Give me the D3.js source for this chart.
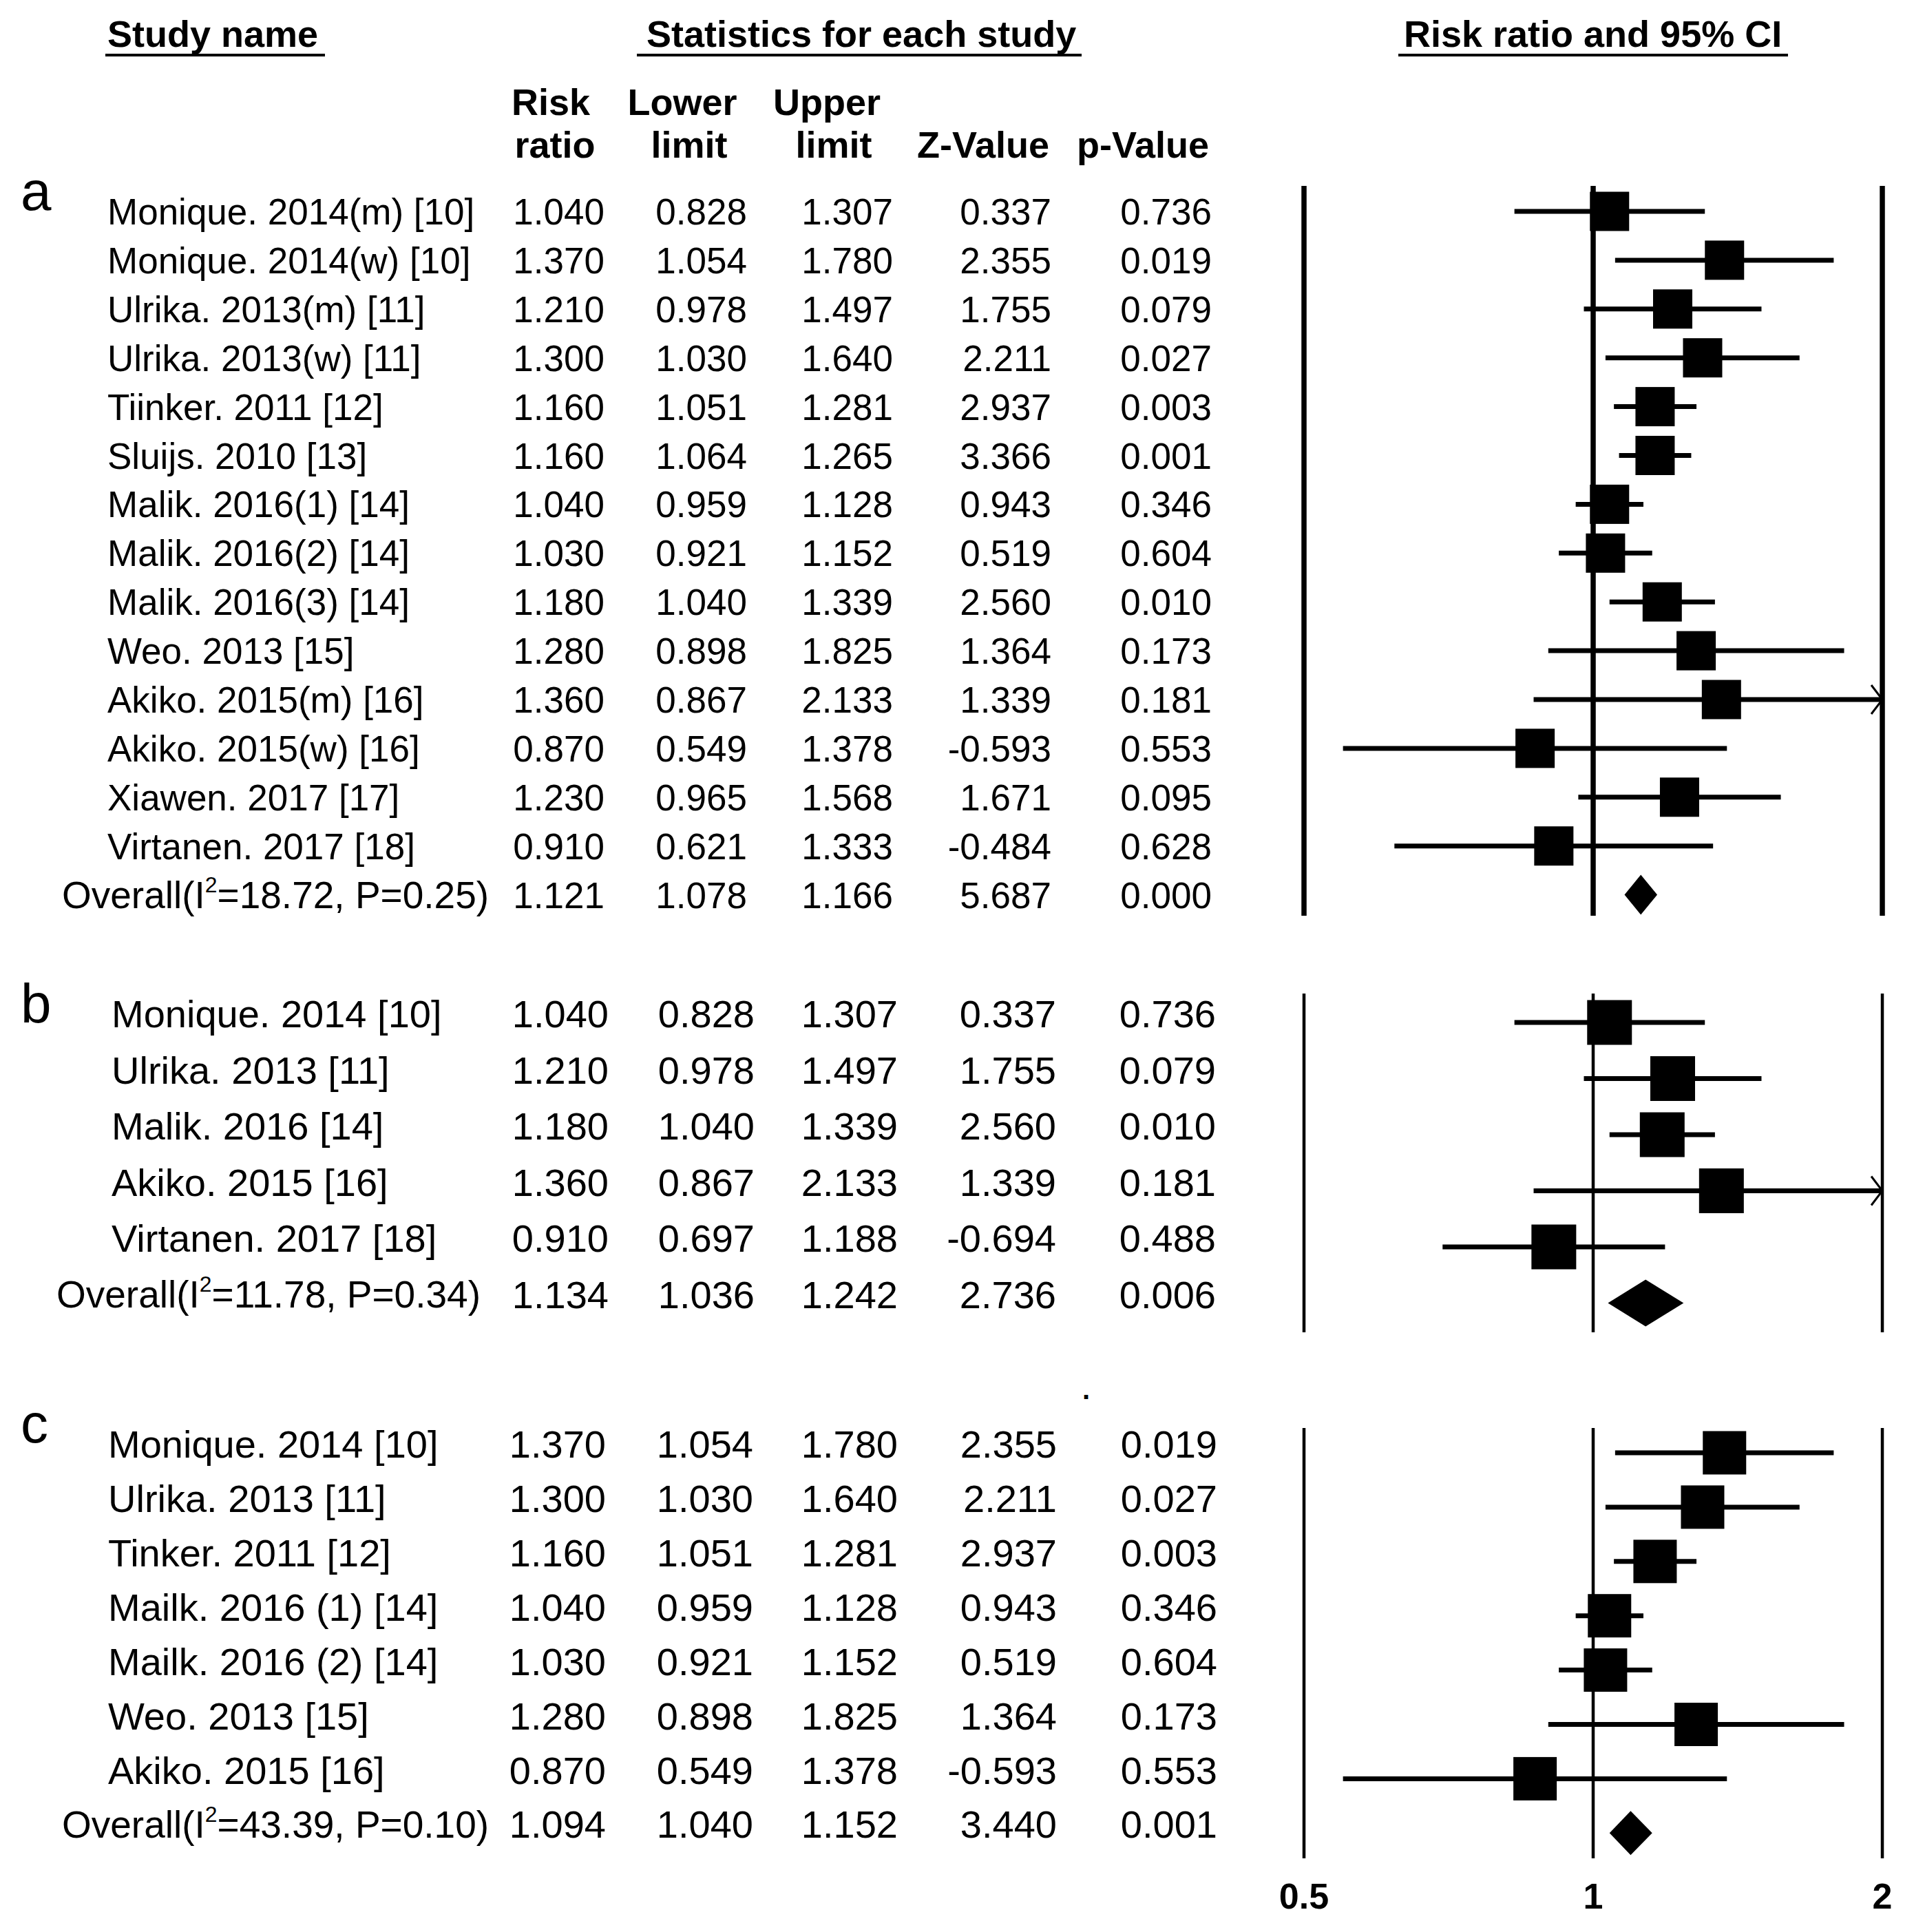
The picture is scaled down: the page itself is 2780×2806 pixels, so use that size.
<!DOCTYPE html>
<html>
<head>
<meta charset="utf-8">
<script src="https://cdn.jsdelivr.net/npm/d3@7"></script>
<style>
  body { margin: 0; background: #fff; }
  text { font-family: "Liberation Sans", Arial, sans-serif; fill: #000; }
</style>
</head>
<body>
<div id="chart"></div>
<script>
// ---- data ----
const namesA = ["Monique. 2014(m) [10]", "Monique. 2014(w) [10]", "Ulrika. 2013(m) [11]", "Ulrika. 2013(w) [11]",
  "Tiinker. 2011 [12]", "Sluijs. 2010 [13]", "Malik. 2016(1) [14]", "Malik. 2016(2) [14]", "Malik. 2016(3) [14]",
  "Weo. 2013 [15]", "Akiko. 2015(m) [16]", "Akiko. 2015(w) [16]", "Xiawen. 2017 [17]", "Virtanen. 2017 [18]"];
const ratioA = [1.040, 1.370, 1.210, 1.300, 1.160, 1.160, 1.040, 1.030, 1.180, 1.280, 1.360, 0.870, 1.230, 0.910, 1.121];
const lowerA = [0.828, 1.054, 0.978, 1.030, 1.051, 1.064, 0.959, 0.921, 1.040, 0.898, 0.867, 0.549, 0.965, 0.621, 1.078];
const upperA = [1.307, 1.780, 1.497, 1.640, 1.281, 1.265, 1.128, 1.152, 1.339, 1.825, 2.133, 1.378, 1.568, 1.333, 1.166];
const zA = [0.337, 2.355, 1.755, 2.211, 2.937, 3.366, 0.943, 0.519, 2.560, 1.364, 1.339, -0.593, 1.671, -0.484, 5.687];
const pA = [0.736, 0.019, 0.079, 0.027, 0.003, 0.001, 0.346, 0.604, 0.010, 0.173, 0.181, 0.553, 0.095, 0.628, 0.000];
const overallA = ["18.72", "0.25"];

const namesB = ["Monique. 2014 [10]", "Ulrika. 2013 [11]", "Malik. 2016 [14]", "Akiko. 2015 [16]", "Virtanen. 2017 [18]"];
const ratioB = [1.040, 1.210, 1.180, 1.360, 0.910, 1.134];
const lowerB = [0.828, 0.978, 1.040, 0.867, 0.697, 1.036];
const upperB = [1.307, 1.497, 1.339, 2.133, 1.188, 1.242];
const zB = [0.337, 1.755, 2.560, 1.339, -0.694, 2.736];
const pB = [0.736, 0.079, 0.010, 0.181, 0.488, 0.006];
const overallB = ["11.78", "0.34"];

const namesC = ["Monique. 2014 [10]", "Ulrika. 2013 [11]", "Tinker. 2011 [12]", "Mailk. 2016 (1) [14]",
  "Mailk. 2016 (2) [14]", "Weo. 2013 [15]", "Akiko. 2015 [16]"];
const ratioC = [1.370, 1.300, 1.160, 1.040, 1.030, 1.280, 0.870, 1.094];
const lowerC = [1.054, 1.030, 1.051, 0.959, 0.921, 0.898, 0.549, 1.040];
const upperC = [1.780, 1.640, 1.281, 1.128, 1.152, 1.825, 1.378, 1.152];
const zC = [2.355, 2.211, 2.937, 0.943, 0.519, 1.364, -0.593, 3.440];
const pC = [0.019, 0.027, 0.003, 0.346, 0.604, 0.173, 0.553, 0.001];
const overallC = ["43.39", "0.10"];

const headTop = ["Risk", "Lower", "Upper"];
const headBottom = ["ratio", "limit", "limit", "Z-Value", "p-Value"];
const tickValues = [0.5, 1, 2];

// ---- layout ----
const W = 2780, H = 2806;
// plain hyphen for negatives, like the original table
const fmt = v => d3.format(".3f")(v).replace("\u2212", "-");

const svg = d3.select("#chart").append("svg")
    .attr("width", W)
    .attr("height", H);

const x = d3.scaleLog().domain([0.5, 2]).range([1894, 2734]);

// column headings
const titles = [
  {t: "Study name", x: 156, u: [153, 472]},
  {t: "Statistics for each study", x: 939, u: [925, 1571]},
  {t: "Risk ratio and 95% CI", x: 2039, u: [2031, 2597]}
];
svg.selectAll(".title").data(titles).enter().append("text")
    .attr("class", "title")
    .attr("x", d => d.x).attr("y", 68)
    .style("font-size", "54px").style("font-weight", "bold")
    .text(d => d.t);
svg.selectAll(".uline").data(titles).enter().append("line")
    .attr("x1", d => d.u[0]).attr("x2", d => d.u[1])
    .attr("y1", 80).attr("y2", 80)
    .attr("stroke", "#000").attr("stroke-width", 4);

const topCenters = [800, 991, 1201];
const botCenters = [806, 1001, 1211, 1428, 1660];
svg.selectAll(".htop").data(headTop).enter().append("text")
    .attr("x", (d, i) => topCenters[i]).attr("y", 167)
    .attr("text-anchor", "middle")
    .style("font-size", "54px").style("font-weight", "bold")
    .text(d => d);
svg.selectAll(".hbot").data(headBottom).enter().append("text")
    .attr("x", (d, i) => botCenters[i]).attr("y", 229)
    .attr("text-anchor", "middle")
    .style("font-size", "54px").style("font-weight", "bold")
    .text(d => d);

const panels = [
  {label: "a", labelY: 305, names: namesA, ratio: ratioA, lower: lowerA, upper: upperA, z: zA, p: pA, overall: overallA,
   top: 270, bottom: 1330, y0: 307, step: 70.9, markOff: 0, fs: 53, ofs: 55, nameX: 156, overallX: 90,
   cols: [878, 1085, 1297, 1527, 1760], box: 57, lw: 7.5, dh: 58},
  {label: "b", labelY: 1485, names: namesB, ratio: ratioB, lower: lowerB, upper: upperB, z: zB, p: pB, overall: overallB,
   top: 1443, bottom: 1935, y0: 1472, step: 81.5, markOff: 13, fs: 56, ofs: 55, nameX: 162, overallX: 82,
   cols: [884, 1096, 1304, 1534, 1766], box: 65, lw: 4.5, dh: 68},
  {label: "c", labelY: 2095, names: namesC, ratio: ratioC, lower: lowerC, upper: upperC, z: zC, p: pC, overall: overallC,
   top: 2074, bottom: 2699, y0: 2097, step: 78.9, markOff: 13, fs: 56, ofs: 55, nameX: 157, overallX: 90,
   cols: [880, 1094, 1304, 1535, 1768], box: 63, lw: 4.5, dh: 64}
];

panels.forEach(pn => {
  const g = svg.append("g");
  const n = pn.ratio.length;
  const rows = d3.range(n).map(i => ({
    i: i,
    overall: i === n - 1,
    name: pn.names[i],
    vals: [pn.ratio[i], pn.lower[i], pn.upper[i], pn.z[i], pn.p[i]],
    rr: pn.ratio[i], lo: pn.lower[i], hi: pn.upper[i],
    ty: pn.y0 + i * pn.step,
    my: pn.y0 + i * pn.step + pn.markOff
  }));

  g.append("text")
      .attr("x", 30).attr("y", pn.labelY)
      .style("font-size", "80px")
      .text(pn.label);

  // study names
  const nm = g.selectAll(".name").data(rows).enter().append("text")
      .attr("x", d => d.overall ? pn.overallX : pn.nameX)
      .attr("y", d => d.ty).attr("dy", "0.36em")
      .style("font-size", d => (d.overall ? pn.ofs : pn.fs) + "px");
  nm.filter(d => !d.overall).text(d => d.name);
  nm.filter(d => d.overall).each(function() {
    const t = d3.select(this);
    t.append("tspan").text("Overall(I");
    t.append("tspan").attr("dy", -0.42 * pn.ofs).style("font-size", (pn.ofs * 0.58) + "px").text("2");
    t.append("tspan").attr("dy", 0.42 * pn.ofs)
        .text("=" + pn.overall[0] + ", P=" + pn.overall[1] + ")");
  });

  // numeric columns
  rows.forEach(r => {
    g.selectAll(null).data(r.vals).enter().append("text")
        .attr("x", (d, k) => pn.cols[k])
        .attr("y", r.ty).attr("dy", "0.36em")
        .attr("text-anchor", "end")
        .style("font-size", pn.fs + "px")
        .text(d => fmt(d));
  });

  // reference lines at 0.5, 1, 2
  g.selectAll(".ref").data(tickValues).enter().append("line")
      .attr("x1", d => x(d)).attr("x2", d => x(d))
      .attr("y1", pn.top).attr("y2", pn.bottom)
      .attr("stroke", "#000").attr("stroke-width", pn.lw);

  const studies = rows.filter(d => !d.overall);
  const maxV = x.domain()[1], minV = x.domain()[0];

  // CI lines
  g.selectAll(".ci").data(studies).enter().append("line")
      .attr("x1", d => x(Math.max(d.lo, minV)))
      .attr("x2", d => x(Math.min(d.hi, maxV)))
      .attr("y1", d => d.my).attr("y2", d => d.my)
      .attr("stroke", "#000").attr("stroke-width", 7);

  // open arrow where the interval runs past the axis
  g.selectAll(".arrow").data(studies.filter(d => d.hi > maxV)).enter().append("path")
      .attr("d", d => {
        const ax = x(maxV);
        return `M${ax - 16},${d.my - 21}L${ax},${d.my}L${ax - 16},${d.my + 21}`;
      })
      .attr("fill", "none").attr("stroke", "#000").attr("stroke-width", 3);

  // squares
  g.selectAll(".box").data(studies).enter().append("rect")
      .attr("x", d => x(d.rr) - pn.box / 2)
      .attr("y", d => d.my - pn.box / 2)
      .attr("width", pn.box).attr("height", pn.box)
      .attr("fill", "#000");

  // summary diamond
  g.selectAll(".diamond").data(rows.filter(d => d.overall)).enter().append("path")
      .attr("d", d => `M${x(d.lo)},${d.my}L${x(d.rr)},${d.my - pn.dh / 2}L${x(d.hi)},${d.my}L${x(d.rr)},${d.my + pn.dh / 2}Z`)
      .attr("fill", "#000");
});

// stray dot above panel c
svg.append("text")
    .attr("x", 1572).attr("y", 2032)
    .style("font-size", "40px").style("font-weight", "bold")
    .text(".");

// axis tick labels
svg.selectAll(".tick").data(tickValues).enter().append("text")
    .attr("x", d => x(d)).attr("y", 2772)
    .attr("text-anchor", "middle")
    .style("font-size", "52px").style("font-weight", "bold")
    .text(d => d);
</script>
</body>
</html>
